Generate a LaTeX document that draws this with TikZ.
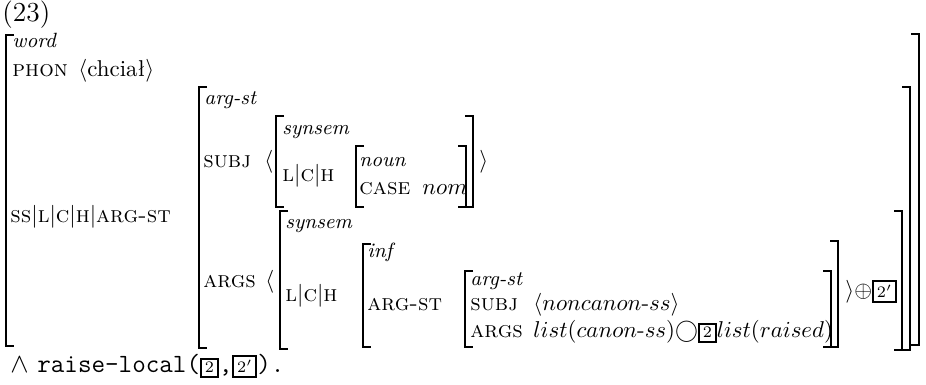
\documentclass[tikz,border=0pt]{standalone}
\usepackage{tikz}
\usetikzlibrary{positioning}

\tikzstyle{feat} = [anchor=base west, inner sep=0pt]
\tikzstyle{sort} = [feat, font=\small\itshape]
\tikzstyle{brak} = [line width=0.9pt]

% square brackets: x, top, bottom
\newcommand{\lbrak}[3]{\draw[brak] (#1+8,#2) -- (#1,#2) -- (#1,#3) -- (#1+8,#3);}
\newcommand{\rbrak}[3]{\draw[brak] (#1-8,#2) -- (#1,#2) -- (#1,#3) -- (#1-8,#3);}
% boxed tags
\newcommand{\tagbox}[1]{{\setlength{\fboxsep}{1.2pt}\setlength{\fboxrule}{0.9pt}\fbox{\scriptsize #1}}}
\newcommand{\pathbar}{$|$}

\begin{document}
\begin{tikzpicture}[x=0.4367pt, y=-0.4367pt]
    \useasboundingbox (0,0) rectangle (926,385);

    \node[feat] (exno) at (2,22) {\large (23)};

    % outer matrix
    \lbrak{6}{35}{346}
    \rbrak{919}{34}{345}
    \node[sort] (word) at (12,48) {word};
    \node[feat] (phon) at (12,77) {\textsc{phon}};
    \node[feat] (phonval) at (78,77) {$\langle$chciał$\rangle$};
    \node[feat] (path) at (10,223) {\textsc{ss}\pathbar\textsc{l}\pathbar\textsc{c}\pathbar\textsc{h}\pathbar\textsc{arg-st}};

    % arg-st
    \lbrak{199}{87}{348}
    \rbrak{910}{87}{350}
    \node[sort] (argst) at (204,105) {arg-st};
    \node[feat] (subj) at (203,168) {\textsc{subj}};
    \node[feat] (subjopen) at (264,168) {$\langle$};

    % subject synsem
    \lbrak{276}{116}{207}
    \rbrak{473}{116}{207}
    \node[sort] (synA) at (282,135) {synsem};
    \node[feat] (lchA) at (282,182) {\textsc{l}\pathbar\textsc{c}\pathbar\textsc{h}};
    \lbrak{356}{146}{207}
    \rbrak{466}{146}{207}
    \node[sort] (noun) at (359,167) {noun};
    \node[feat] (case) at (359,195) {\textsc{case}};
    \node[feat] (nom) at (422,195) {$nom$};
    \node[feat] (subjclose) at (479,168) {$\rangle$};

    \node[feat] (args) at (203,288) {\textsc{args}};
    \node[feat] (argsopen) at (265,288) {$\langle$};

    % argument synsem
    \lbrak{280}{211}{349}
    \rbrak{902}{211}{350}
    \node[sort] (synB) at (285,229) {synsem};
    \node[feat] (lchB) at (285,302) {\textsc{l}\pathbar\textsc{c}\pathbar\textsc{h}};
    \lbrak{363}{244}{347}
    \rbrak{838}{241}{347}
    \node[sort] (inf) at (367,258) {inf};
    \node[feat] (argstB) at (367,311) {\textsc{arg-st}};
    \lbrak{465}{271}{347}
    \rbrak{831}{271}{347}
    \node[sort] (argstC) at (470,286) {arg-st};
    \node[feat] (subjC) at (470,311) {\textsc{subj}};
    \node[feat] (subjCval) at (533,311) {$\langle noncanon$-$ss\rangle$};
    \node[feat] (argsC) at (470,338) {\textsc{args}};
    \node[feat] (argsCval) at (533,338) {$list(canon$-$ss)\bigcirc$\tagbox{2}$list(raised)$};
    \node[feat] (argsclose) at (845,298) {$\rangle\oplus$\tagbox{$2'$}};

    \node[feat, font=\fontsize{11.5}{14}\selectfont] (raise) at (10,373)
        {$\wedge$ \texttt{raise-local(}\tagbox{2}\texttt{,}\tagbox{$2'$}\texttt{).}};
\end{tikzpicture}
\end{document}
